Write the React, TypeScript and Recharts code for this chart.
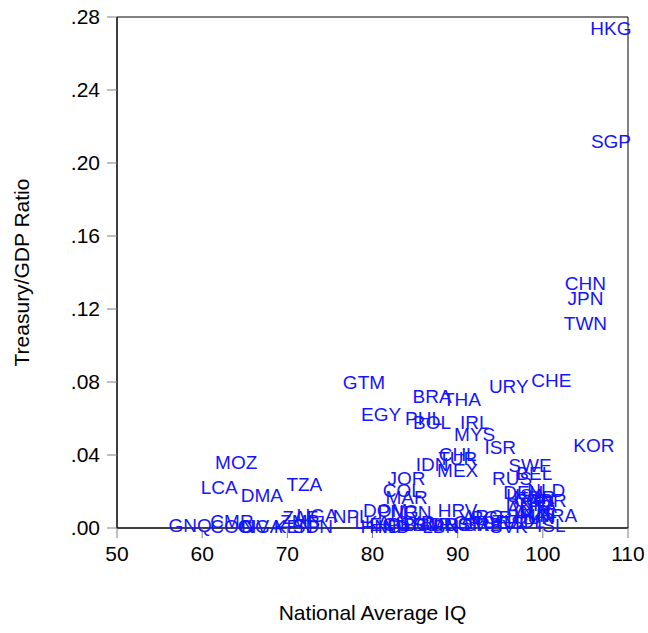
import React from 'react';
import {
  ScatterChart,
  Scatter,
  XAxis,
  YAxis,
  ReferenceArea,
} from 'recharts';

// country codes, national average IQ, treasury/GDP ratio
const codes = [
  'HKG', 'SGP', 'CHN', 'JPN', 'TWN', 'KOR', 'CHE', 'URY', 'GTM', 'BRA',
  'THA', 'EGY', 'PHL', 'BOL', 'IRL', 'MYS', 'ISR', 'CHL', 'TUR', 'IDN',
  'MEX', 'JOR', 'COL', 'MAR', 'MOZ', 'LCA', 'DMA', 'TZA', 'UGA', 'NPL',
  'GNQ', 'CMR', 'COG', 'CIV', 'NGA', 'KEN', 'ZMB', 'ZAF', 'SDN', 'LKA',
  'HND', 'ECU', 'IND', 'PER', 'DOM', 'PNG', 'IRN', 'SYR', 'BGD', 'SUR',
  'LBN', 'MUS', 'ROM', 'GRC', 'SRB', 'HRV', 'ARG', 'BGR', 'LTU', 'ESP',
  'SVK', 'POL', 'ISL', 'HUN', 'FIN', 'FRA', 'AUS', 'NZL', 'AUT', 'ITA',
  'DNK', 'CAN', 'GBR', 'NOR', 'DEU', 'NLD', 'USA', 'RUS', 'SWE', 'BEL',
];

const iq = [
  108, 108, 105, 105, 105, 106, 101, 96, 79, 87,
  90.5, 81, 86, 87, 92, 92, 95, 90, 90, 87,
  90, 84, 83.5, 84, 64, 62, 67, 72, 73.5, 77.5,
  58.6, 63.5, 63.5, 66, 67, 70.7, 71.5, 71.5, 73, 80,
  81, 82, 82.5, 84, 81.5, 83, 85, 85, 86, 87,
  88, 89, 91, 92, 93, 90, 93, 94, 95, 97,
  96, 98, 101, 99, 99, 101.8, 99, 99.5, 98, 100,
  98, 99, 100.4, 99, 97.7, 100.4, 98, 96.4, 98.5, 99,
];

const ratio = [
  0.274, 0.212, 0.134, 0.126, 0.112, 0.0452, 0.0808, 0.0778, 0.08, 0.0723,
  0.0704, 0.0625, 0.06, 0.058, 0.058, 0.0512, 0.0444, 0.0405, 0.038, 0.035,
  0.0318, 0.0274, 0.0208, 0.0167, 0.0359, 0.0222, 0.018, 0.0238, 0.007, 0.0063,
  0.0015, 0.004, 0.001, 0.001, 0.001, 0.001, 0.004, 0.006, 0.001, 0.003,
  0.001, 0.002, 0.001, 0.002, 0.0096, 0.0093, 0.0085, 0.003, 0.002, 0.002,
  0.001, 0.002, 0.002, 0.003, 0.002, 0.0098, 0.0063, 0.006, 0.004, 0.003,
  0.001, 0.004, 0.0017, 0.006, 0.007, 0.007, 0.008, 0.009, 0.011, 0.012,
  0.013, 0.015, 0.0153, 0.017, 0.0197, 0.0208, 0.018, 0.0274, 0.0345, 0.03,
];

const xTicks = [50, 60, 70, 80, 90, 100, 110];
const yTicks = [0, 0.04, 0.08, 0.12, 0.16, 0.2, 0.24, 0.28];

const data = codes.map((code, i) => ({ code, iq: iq[i], ratio: ratio[i] }));

const FONT = 'Liberation Sans, Arial, sans-serif';

function CodeLabel(props: any) {
  const { cx, cy, payload } = props;
  return (
    <text
      x={cx}
      y={cy}
      dy="0.36em"
      textAnchor="middle"
      fill="#1414ff"
      fontSize={19}
      fontFamily={FONT}
    >
      {payload.code}
    </text>
  );
}

export default function App() {
  return (
    <div style={{ position: 'absolute', left: 0, top: 0, background: '#fff' }}>
      <ScatterChart
        width={648}
        height={633}
        margin={{ top: 17, right: 20, left: 0, bottom: 0 }}
      >
        <XAxis
          type="number"
          dataKey="iq"
          domain={[50, 110]}
          ticks={xTicks}
          interval={0}
          height={105}
          axisLine={{ stroke: '#000' }}
          tickLine={{ stroke: '#808080' }}
          tickSize={10}
          tickMargin={8}
          tick={{ fill: '#000', fontSize: 21, fontFamily: FONT }}
          label={{
            value: 'National Average IQ',
            position: 'insideBottom',
            offset: 13,
            fill: '#000',
            fontSize: 21,
            fontFamily: FONT,
          }}
        />
        <YAxis
          type="number"
          dataKey="ratio"
          domain={[0, 0.28]}
          ticks={yTicks}
          interval={0}
          width={117}
          axisLine={{ stroke: '#000' }}
          tickLine={{ stroke: '#808080' }}
          tickSize={10}
          tickMargin={7}
          tick={{ fill: '#000', fontSize: 21, fontFamily: FONT }}
          tickFormatter={(v: number) => v.toFixed(2).replace(/^0/, '')}
          label={{
            value: 'Treasury/GDP Ratio',
            angle: -90,
            position: 'insideLeft',
            offset: 22,
            style: { textAnchor: 'middle' },
            fill: '#000',
            fontSize: 21,
            fontFamily: FONT,
          }}
        />
        <ReferenceArea
          x1={50}
          x2={110}
          y1={0}
          y2={0.28}
          fill="none"
          stroke="#000"
          strokeWidth={1}
        />
        <Scatter data={data} shape={CodeLabel} isAnimationActive={false} />
      </ScatterChart>
    </div>
  );
}
